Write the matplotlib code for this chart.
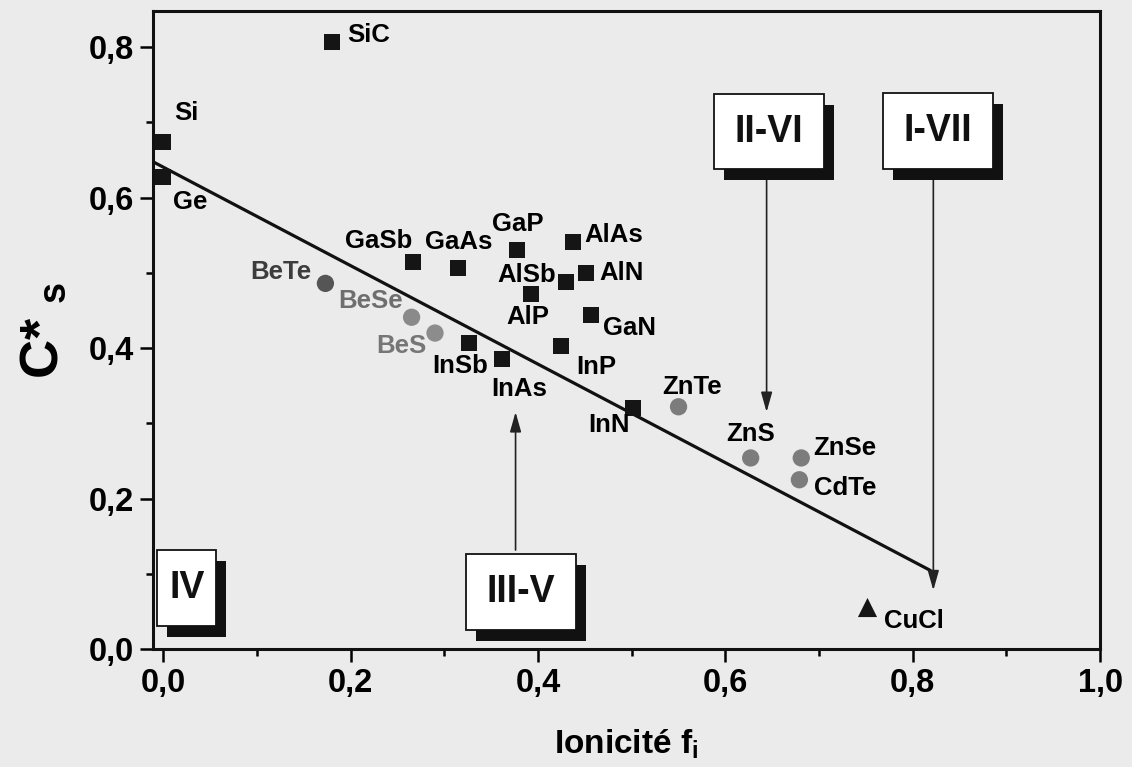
import matplotlib.pyplot as plt
from matplotlib.patches import Rectangle
from matplotlib.transforms import offset_copy

# ---------------------------------------
# DATA (ionicity f_i, C*_s)
# ---------------------------------------
iv_names = ['SiC', 'Si', 'Ge']
iv_x = [0.180, 0.000, 0.000]
iv_y = [0.807, 0.674, 0.627]

iii_v_names = ['GaSb', 'GaAs', 'GaP', 'AlAs', 'AlN', 'AlSb', 'AlP',
               'GaN', 'InP', 'InSb', 'InAs', 'InN']
iii_v_x = [0.266, 0.315, 0.378, 0.437, 0.451, 0.430, 0.392,
           0.457, 0.425, 0.326, 0.361, 0.501]
iii_v_y = [0.514, 0.506, 0.530, 0.541, 0.500, 0.488, 0.472,
           0.444, 0.403, 0.407, 0.385, 0.320]

ii_vi_names = ['BeTe', 'BeSe', 'BeS', 'ZnTe', 'ZnS', 'ZnSe', 'CdTe']
ii_vi_x = [0.173, 0.265, 0.290, 0.550, 0.627, 0.681, 0.679]
ii_vi_y = [0.486, 0.441, 0.420, 0.322, 0.254, 0.254, 0.225]
ii_vi_colors = ['#555555', '#8a8a8a', '#8c8c8c', '#7c7c7c',
                '#7c7c7c', '#7c7c7c', '#7c7c7c']

i_vii_names = ['CuCl']
i_vii_x = [0.751]
i_vii_y = [0.056]

# fitted line end points
fit_x = [-0.010, 0.818]
fit_y = [0.647, 0.105]

x_ticks = [0.0, 0.2, 0.4, 0.6, 0.8, 1.0]
x_tick_labels = ['0,0', '0,2', '0,4', '0,6', '0,8', '1,0']
y_ticks = [0.0, 0.2, 0.4, 0.6, 0.8]
y_tick_labels = ['0,0', '0,2', '0,4', '0,6', '0,8']

# label placement: (dx, dy in points, ha, colour)
label_style = {
    'SiC': (11, 5, 'left', 'k'),
    'Si': (8, 21, 'left', 'k'),
    'Ge': (7, -18, 'left', 'k'),
    'GaSb': (0, 15, 'right', 'k'),
    'GaAs': (0, 19, 'center', 'k'),
    'GaP': (0, 19, 'center', 'k'),
    'AlAs': (8.6, 5, 'left', 'k'),
    'AlN': (10, 0, 'left', 'k'),
    'AlSb': (-7, 5, 'right', 'k'),
    'AlP': (-2, -16.5, 'center', 'k'),
    'GaN': (8, -9.4, 'left', 'k'),
    'InP': (10.8, -15, 'left', 'k'),
    'InSb': (-6.5, -17, 'center', 'k'),
    'InAs': (13, -21, 'center', 'k'),
    'InN': (-2, -12, 'right', 'k'),
    'BeTe': (-10, 8, 'right', '#3c3c3c'),
    'BeSe': (-6.5, 11.5, 'right', '#6e6e6e'),
    'BeS': (-6, -9.4, 'right', '#767676'),
    'ZnTe': (9.4, 14.4, 'center', 'k'),
    'ZnS': (0, 17, 'center', 'k'),
    'ZnSe': (8.6, 7, 'left', 'k'),
    'CdTe': (10.8, -5.8, 'left', 'k'),
    'CuCl': (12.2, -10, 'left', 'k'),
}

# group boxes: label, (x0, y0, x1, y1)
boxes = [
    ('IV', (-0.0064, 0.0306, 0.0566, 0.1316)),
    ('III-V', (0.3226, 0.025, 0.440, 0.126)),
    ('II-VI', (0.5876, 0.638, 0.705, 0.7375)),
    ('I-VII', (0.768, 0.638, 0.886, 0.739)),
]

# arrows: (x, y_start, y_tip)
arrows = [
    (0.376, 0.1316, 0.315),
    (0.644, 0.623, 0.315),
    (0.822, 0.623, 0.078),
]

BG = '#ebebeb'


def main():
    plt.rcParams['font.family'] = ['Liberation Sans', 'DejaVu Sans']
    plt.rcParams['font.weight'] = 'bold'
    plt.rcParams['mathtext.fontset'] = 'custom'
    plt.rcParams['mathtext.rm'] = 'Liberation Sans:bold'
    plt.rcParams['mathtext.it'] = 'Liberation Sans:bold'
    plt.rcParams['mathtext.bf'] = 'Liberation Sans:bold'

    fig = plt.figure(figsize=(11.32, 7.67), dpi=100, facecolor=BG)
    ax = fig.add_axes([0.1352, 0.1538, 0.8366, 0.8318])
    ax.set_facecolor(BG)

    # fit line
    ax.plot(fit_x, fit_y, color='#111111', linewidth=2.3, zorder=2)

    # markers
    ax.scatter(iv_x, iv_y, marker='s', s=140, color='#151515', zorder=3,
               linewidths=0)
    ax.scatter(iii_v_x, iii_v_y, marker='s', s=140, color='#151515',
               zorder=3, linewidths=0)
    ax.scatter(ii_vi_x, ii_vi_y, marker='o', s=155, c=ii_vi_colors,
               zorder=3, linewidths=0)
    ax.scatter(i_vii_x, i_vii_y, marker='^', s=190, color='#151515',
               zorder=3, linewidths=0)

    # labels
    for names, xs, ys in [(iv_names, iv_x, iv_y),
                          (iii_v_names, iii_v_x, iii_v_y),
                          (ii_vi_names, ii_vi_x, ii_vi_y),
                          (i_vii_names, i_vii_x, i_vii_y)]:
        for name, x, y in zip(names, xs, ys):
            dx, dy, ha, col = label_style[name]
            ax.annotate(name, (x, y), xytext=(dx, dy),
                        textcoords='offset points', ha=ha, va='center',
                        fontsize=18.5, fontweight='bold', color=col,
                        zorder=4)

    # arrows
    for x, y0, y1 in arrows:
        ax.annotate('', xy=(x, y1), xytext=(x, y0),
                    arrowprops=dict(arrowstyle='-|>,head_length=0.6,head_width=0.17',
                                    mutation_scale=20, color='#222222',
                                    linewidth=1.2, shrinkA=0, shrinkB=0),
                    zorder=2)

    # shadowed group boxes
    shadow_tr = offset_copy(ax.transData, fig=fig, x=7.2, y=-8,
                            units='points')
    for label, (x0, y0, x1, y1) in boxes:
        ax.add_patch(Rectangle((x0, y0), x1 - x0, y1 - y0,
                               transform=shadow_tr, facecolor='#111111',
                               edgecolor='none', zorder=5))
        ax.add_patch(Rectangle((x0, y0), x1 - x0, y1 - y0,
                               facecolor='white', edgecolor='#111111',
                               linewidth=1.3, zorder=6))
        ax.text((x0 + x1) / 2, (y0 + y1) / 2, label, ha='center',
                va='center', fontsize=27, fontweight='bold',
                color='#111111', zorder=7)

    # axes
    ax.set_xlim(-0.011, 1.0)
    ax.set_ylim(0, 0.848)
    ax.set_xticks(x_ticks)
    ax.set_xticklabels(x_tick_labels)
    ax.set_yticks(y_ticks)
    ax.set_yticklabels(y_tick_labels)
    ax.set_xticks([0.1, 0.3, 0.5, 0.7, 0.9], minor=True)
    ax.set_yticks([0.1, 0.3, 0.5, 0.7], minor=True)
    ax.tick_params(which='major', direction='out', length=9.5, width=1.8,
                   labelsize=23.5, pad=4)
    ax.tick_params(which='minor', direction='out', length=5, width=1.8)
    for sp in ax.spines.values():
        sp.set_linewidth(2.2)
        sp.set_color('#111111')

    ax.set_xlabel('Ionicité f$_{\\mathrm{i}}$', fontsize=24,
                  fontweight='bold', labelpad=21)
    ax.set_ylabel('C* $_{\\mathrm{s}}$', fontsize=39, fontweight='bold',
                  labelpad=15)

    fig.savefig('out.png', dpi=100, facecolor=BG)


if __name__ == "__main__":
    main()
